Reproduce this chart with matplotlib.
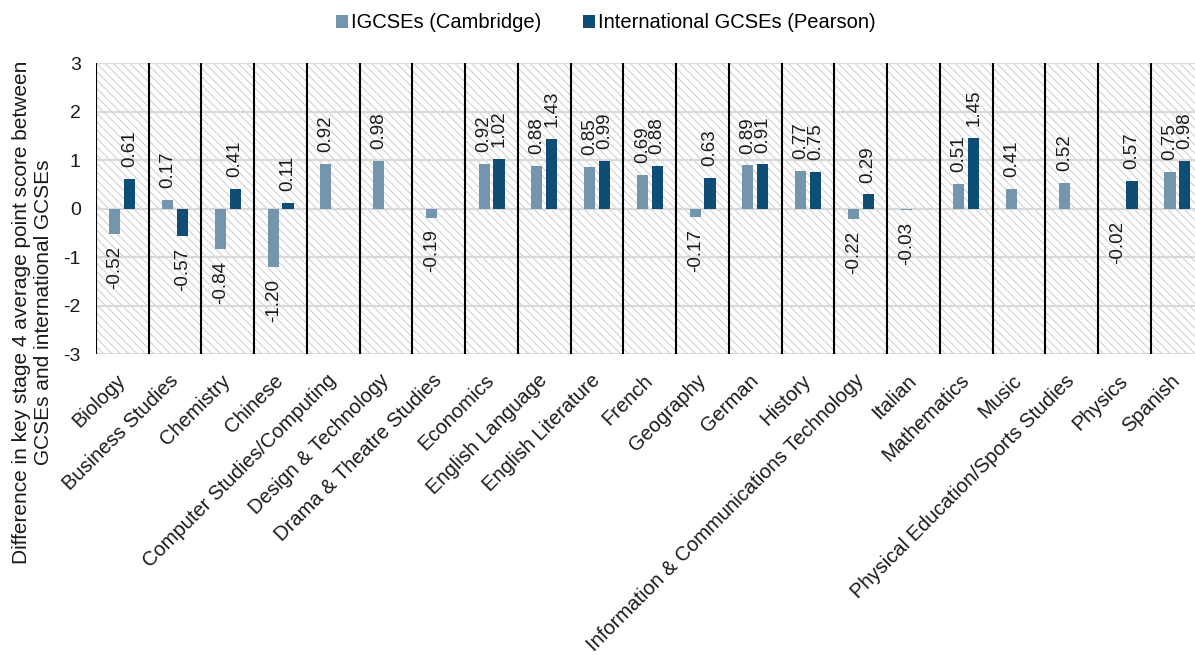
import numpy as np
import matplotlib
matplotlib.use("Agg")
import matplotlib.pyplot as plt
from matplotlib.patches import Rectangle

plt.rcParams["font.family"] = ["Liberation Sans", "DejaVu Sans"]
plt.rcParams["hatch.color"] = "#d2d2d2"
plt.rcParams["hatch.linewidth"] = 0.8

subjects = [
    "Biology", "Business Studies", "Chemistry", "Chinese",
    "Computer Studies/Computing", "Design & Technology",
    "Drama & Theatre Studies", "Economics", "English Language",
    "English Literature", "French", "Geography", "German", "History",
    "Information & Communications Technology", "Italian", "Mathematics",
    "Music", "Physical Education/Sports Studies", "Physics", "Spanish",
]
igcse_cambridge = [-0.52, 0.17, -0.84, -1.20, 0.92, 0.98, -0.19, 0.92, 0.88,
                   0.85, 0.69, -0.17, 0.89, 0.77, -0.22, -0.03, 0.51, 0.41,
                   0.52, -0.02, 0.75]
intl_gcse_pearson = [0.61, -0.57, 0.41, 0.11, None, None, None, 1.02, 1.43,
                     0.99, 0.88, 0.63, 0.91, 0.75, 0.29, None, 1.45, None,
                     None, 0.57, 0.98]
series_names = ["IGCSEs (Cambridge)", "International GCSEs (Pearson)"]
series_colors = ["#7395ae", "#0f4d74"]
y_ticks = [-3, -2, -1, 0, 1, 2, 3]

fig = plt.figure(figsize=(11.95, 6.55), dpi=100)
ax = fig.add_axes([0.0803, 0.4595, 0.927, 0.4443])

n = len(subjects)
x = np.arange(n)
bar_w = 0.21
offsets = [-0.14, 0.14]

# hatched plot background
ax.add_patch(Rectangle((0, 0), 1, 1, transform=ax.transAxes, facecolor="white",
                       edgecolor="#d2d2d2", linewidth=0, hatch="\\\\\\\\",
                       zorder=0))

for values, off, color, name in zip([igcse_cambridge, intl_gcse_pearson],
                                    offsets, series_colors, series_names):
    xs = [xi + off for xi, v in zip(x, values) if v is not None]
    vs = [v for v in values if v is not None]
    ax.bar(xs, vs, width=bar_w, color=color, label=name, zorder=3)
    for xi, v in zip(xs, vs):
        ax.annotate(f"{v:.2f}", (xi, v),
                    xytext=(0, 8.5 if v >= 0 else -8.5),
                    textcoords="offset points", rotation=90,
                    ha="center", va="bottom" if v >= 0 else "top",
                    fontsize=13.5, color="#1a1a1a", zorder=4)

# horizontal gridlines and black category separators
for yv in y_ticks:
    ax.axhline(yv, color="#d9d9d9", linewidth=1.6, zorder=1)
for b in np.arange(n + 1) - 0.5:
    ax.axvline(b, color="black", linewidth=1.5, zorder=2)

ax.set_xlim(-0.5, n - 0.5)
ax.set_ylim(-3, 3)
ax.set_yticks(y_ticks)
ax.set_yticklabels([str(t) for t in y_ticks], fontsize=14, color="#1a1a1a")
ax.set_xticks(x)
ax.set_xticklabels(subjects, rotation=45, ha="right", va="center",
                   rotation_mode="anchor", fontsize=14.5, color="#1a1a1a")
ax.tick_params(axis="y", length=0, pad=11)
ax.tick_params(axis="x", length=0, pad=17)
for s in ax.spines.values():
    s.set_visible(False)

fig.text(0.027, 0.523,
         "Difference in key stage 4 average point score between\n"
         "GCSEs and international GCSEs",
         rotation=90, ha="center", va="center", multialignment="center",
         fontsize=15, color="#1a1a1a")

fig.legend(loc="center", bbox_to_anchor=(0.507, 0.965), ncol=2,
           frameon=False, fontsize=14.5, handlelength=0.6, handleheight=0.6,
           handletextpad=0.15, columnspacing=2.1)

fig.savefig("out.png", dpi=100)
